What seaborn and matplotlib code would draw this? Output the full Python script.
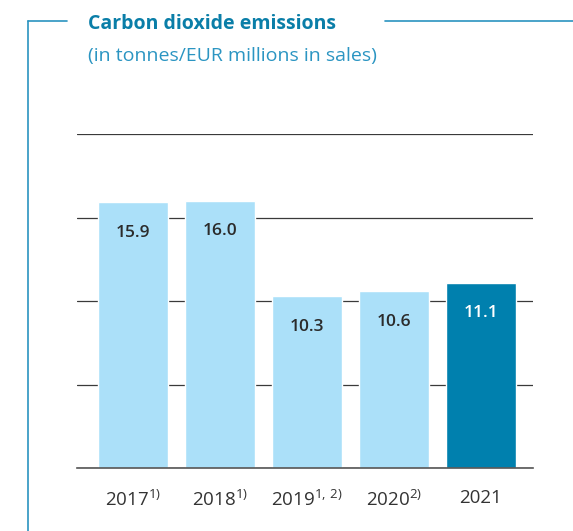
import pandas as pd
import matplotlib.pyplot as plt
import seaborn as sns
from matplotlib.lines import Line2D

# data
years = ['2017', '2018', '2019', '2020', '2021']
tick_labels = ['2017$^{1)}$', '2018$^{1)}$', '2019$^{1,\\,2)}$', '2020$^{2)}$', '2021']
values = [15.9, 16.0, 10.3, 10.6, 11.1]
bar_colors = ['#abe0f9', '#abe0f9', '#abe0f9', '#abe0f9', '#0080ae']

df = pd.DataFrame({'year': years, 'co2': values})

sns.set_style('white')
plt.rcParams['font.family'] = ['Open Sans', 'DejaVu Sans']
plt.rcParams['mathtext.fontset'] = 'custom'
plt.rcParams['mathtext.rm'] = 'Open Sans'

fig = plt.figure(figsize=(5.73, 5.31), dpi=100)
ax = fig.add_axes([77 / 573, 63 / 531, 456 / 573, 334 / 531])

sns.barplot(data=df, x='year', y='co2', hue='year', palette=bar_colors,
            legend=False, width=0.8, saturation=1, ax=ax, zorder=3)

ax.set_ylim(0, 20)
ax.set_xlim(-0.64, 4.6)
ax.set_yticks([0, 5, 10, 15, 20])
ax.yaxis.grid(True, color='#3a3a3a', linewidth=0.9, zorder=0)
ax.set_yticklabels([])
ax.tick_params(axis='y', length=0)
ax.tick_params(axis='x', length=0, pad=15, labelsize=13.5, labelcolor='#333333')
ax.set_xticks(range(len(years)))
ax.set_xticklabels(tick_labels)
ax.set_xlabel('')
ax.set_ylabel('')
for s in ['top', 'right', 'left']:
    ax.spines[s].set_visible(False)
ax.spines['bottom'].set_color('#555555')
ax.spines['bottom'].set_linewidth(1.2)
ax.spines['bottom'].set_zorder(4)

# waarden in de balken
for i, v in enumerate(values):
    kleur = 'white' if i == len(values) - 1 else '#2b2b2b'
    ax.annotate(f'{v:.1f}', (i, v), xytext=(0, -22), textcoords='offset points',
                ha='center', va='center', fontsize=12.5, fontweight='semibold', color=kleur)

# titel en kader
fig.text(88 / 573, 1 - 24 / 531, 'Carbon dioxide emissions', ha='left', va='center',
         fontsize=14, fontweight='bold', color='#0a7ea8')
fig.text(88 / 573, 1 - 56 / 531, '(in tonnes/EUR millions in sales)', ha='left', va='center',
         fontsize=14, color='#2b95c2')
lijn = '#2a93c0'
fig.add_artist(Line2D([28 / 573, 28 / 573], [0, 1 - 21 / 531], color=lijn, lw=1.2))
fig.add_artist(Line2D([28 / 573, 67 / 573], [1 - 21 / 531, 1 - 21 / 531], color=lijn, lw=1.2))
fig.add_artist(Line2D([385 / 573, 1], [1 - 21 / 531, 1 - 21 / 531], color=lijn, lw=1.2))

plt.savefig('out.png', dpi=100)
